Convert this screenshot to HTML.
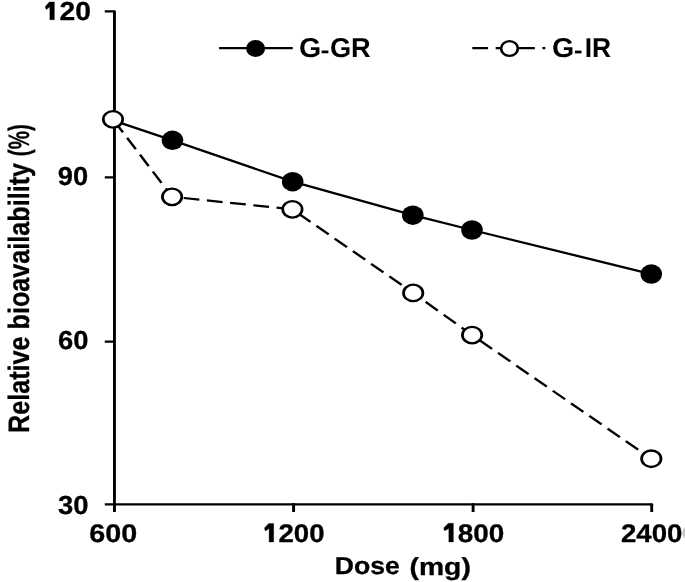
<!DOCTYPE html>
<html><head><meta charset="utf-8">
<style>
html,body{margin:0;padding:0;background:#fff;width:685px;height:582px;overflow:hidden}
svg{display:block;will-change:transform}
text{text-rendering:geometricPrecision;font-family:"Liberation Sans",sans-serif;font-weight:bold;fill:#000;stroke:#000;stroke-width:0.3px;stroke-linejoin:round}
text.lg{stroke-width:0}
tspan.h{fill:none;stroke:none}
</style></head>
<body>
<svg width="685" height="582" viewBox="0 0 685 582">
<!-- axes -->
<g stroke="#000" fill="none" stroke-linecap="butt">
<path stroke-width="2.9" d="M114.45 11.4 V511.9 M293.6 503.15 V511.9 M473.1 503.15 V511.9 M651.7 504.35 V511.9"/>
<path stroke-width="2.4" d="M104.8 11.4 H114.45 M104.8 177.4 H114.45 M104.8 341.6 H114.45 M104.8 504.35 H651.7"/>
</g>
<g fill="#000"><ellipse cx="114.45" cy="11.4" rx="1.45" ry="1.2"/><ellipse cx="651.7" cy="504.35" rx="1.45" ry="1.2"/></g>
<!-- y labels -->
<text id="t120" x="90.9" y="19.8" font-size="26" text-anchor="end" textLength="47.1" lengthAdjust="spacingAndGlyphs"><tspan class="h">1</tspan>20</text>
<text id="t90" x="88.11" y="184.55" font-size="26" text-anchor="end" textLength="30.35" lengthAdjust="spacingAndGlyphs">90</text>
<text id="t60" x="88.40" y="349.37" font-size="26" text-anchor="end" textLength="30.42" lengthAdjust="spacingAndGlyphs">60</text>
<text id="t30" x="88.42" y="514.2" font-size="26" text-anchor="end" textLength="30.49" lengthAdjust="spacingAndGlyphs">30</text>
<!-- x labels -->
<text id="x600" x="113.16" y="541.8" font-size="25.5" text-anchor="middle" textLength="47.90" lengthAdjust="spacingAndGlyphs">600</text>
<text id="x1200" x="293.86" y="541.8" font-size="25.5" text-anchor="middle" textLength="61.4" lengthAdjust="spacingAndGlyphs"><tspan class="h">1</tspan>200</text>
<text id="x1800" x="473.27" y="541.8" font-size="25.5" text-anchor="middle" textLength="62.0" lengthAdjust="spacingAndGlyphs"><tspan class="h">1</tspan>800</text>
<text id="x2400" x="651.69" y="541.8" font-size="25.5" text-anchor="middle" textLength="61.54" lengthAdjust="spacingAndGlyphs">2400</text>
<ellipse cx="685.5" cy="533" rx="3" ry="5.5" fill="#c4c4c4"/>
<path id="ones" fill="#000" stroke="#000" stroke-width="0.3" stroke-linejoin="round" d="M54.40 1.90 L54.40 19.80 L49.80 19.80 L49.80 7.10 L46.40 9.40 L45.40 8.10 L45.40 6.30 L49.40 1.90 Z M273.70 523.40 L273.70 542.00 L269.10 542.00 L269.10 528.60 L265.60 530.90 L264.60 529.60 L264.60 527.80 L268.70 523.40 Z M453.40 523.30 L453.40 542.00 L448.80 542.00 L448.80 528.50 L444.90 530.80 L443.90 529.50 L443.90 527.70 L448.40 523.30 Z"/>
<!-- titles -->
<text id="dose1" x="334.83" y="574.47" font-size="24.5" textLength="64.95" lengthAdjust="spacingAndGlyphs">Dose</text>
<text id="dose2" x="409.50" y="574.97" font-size="24.5" textLength="61.32" lengthAdjust="spacingAndGlyphs">(mg)</text>
<text id="ytitle" transform="translate(29.0,432.98) rotate(-90)" font-size="29.5" textLength="270.10" lengthAdjust="spacingAndGlyphs">Relative bioavailability</text>
<text id="ypct" transform="translate(29.0,156.15) rotate(-90)" font-size="29.5" textLength="31.89" lengthAdjust="spacingAndGlyphs">(%)</text>
<!-- G-GR line -->
<polyline fill="none" stroke="#000" stroke-width="2.3" points="113,120.3 172.5,140.3 292.7,181.7 412.8,215.2 472,230 651.3,274.1"/>
<!-- G-IR line -->
<g transform="scale(1.16,1)"><polyline fill="none" stroke="#000" stroke-width="2.2" stroke-dasharray="13.6 6.56" stroke-dashoffset="18.15" points="97.414,119.3 148.362,196.8 252.069,209.3 356.207,292.9 406.983,335.1 561.466,458.7"/></g>
<!-- filled markers -->
<g fill="#000">
<ellipse cx="172.5" cy="140.3" rx="10.8" ry="9.75"/>
<ellipse cx="292.7" cy="181.7" rx="10.8" ry="9.75"/>
<ellipse cx="412.8" cy="215.2" rx="10.8" ry="9.75"/>
<ellipse cx="472" cy="230" rx="10.8" ry="9.75"/>
<ellipse cx="651.3" cy="274.1" rx="10.8" ry="9.75"/>
</g>
<!-- open markers -->
<g fill="#fff" stroke="#000" stroke-width="2.35">
<ellipse transform="translate(113,119.3) scale(1.16,1)" rx="8.36" ry="8.25"/>
<ellipse transform="translate(172.1,196.8) scale(1.16,1)" rx="8.36" ry="8.25"/>
<ellipse transform="translate(292.4,209.3) scale(1.16,1)" rx="8.36" ry="8.25"/>
<ellipse transform="translate(413.2,292.9) scale(1.16,1)" rx="8.36" ry="8.25"/>
<ellipse transform="translate(472.1,335.1) scale(1.16,1)" rx="8.36" ry="8.25"/>
<ellipse transform="translate(651.3,458.7) scale(1.16,1)" rx="8.36" ry="8.25"/>
</g>
<!-- legend -->
<path d="M219.1 48.2 H292.7" stroke="#000" stroke-width="2.3"/>
<ellipse cx="255.6" cy="48.5" rx="9.5" ry="8.4" fill="#000"/>
<text id="ggr_g" class="lg" x="299.07" y="57.1" font-size="27.2" textLength="22.21" lengthAdjust="spacingAndGlyphs">G</text>
<rect x="321.6" y="50.5" width="6.8" height="2.8" fill="#000"/>
<text id="ggr_gr" class="lg" x="329.93" y="57.1" font-size="27.2" textLength="40.82" lengthAdjust="spacingAndGlyphs">GR</text>
<g transform="scale(1.16,1)"><path d="M406.897 48.2 H470.086" stroke="#000" stroke-width="2.3" stroke-dasharray="13.6 6.56" stroke-dashoffset="-0.25"/></g>
<ellipse transform="translate(509.5,48.5) scale(1.16,1)" rx="7.2" ry="7.4" fill="#fff" stroke="#000" stroke-width="2.3"/>
<text id="gir_g" class="lg" x="551.98" y="57.1" font-size="27.2" textLength="22.22" lengthAdjust="spacingAndGlyphs">G</text>
<rect x="574.9" y="50.6" width="6.6" height="2.8" fill="#000"/>
<text id="gir_ir" class="lg" x="584.78" y="57.1" font-size="27.2" textLength="26.41" lengthAdjust="spacingAndGlyphs">IR</text>
</svg>
</body></html>
